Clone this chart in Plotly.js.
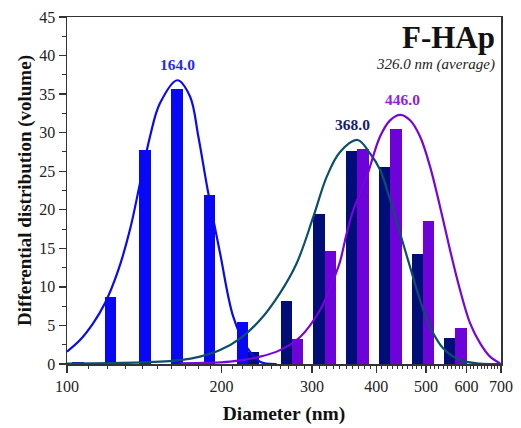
<!DOCTYPE html>
<html><head><meta charset="utf-8">
<script src="https://cdn.plot.ly/plotly-3.0.1.min.js"></script>
<style>html,body{margin:0;padding:0;background:#fff}</style>
</head><body><div id="chart" style="width:521px;height:428px"></div>
<script>
// ---- data ----
const blueBarX   = [105, 121.6, 141.9, 163.7, 189.7, 219.6];
const blueBarY   = [0.25, 8.7, 27.8, 35.6, 21.9, 5.5];
const navyBarX   = [231, 267.5, 309.7, 358.5, 415, 481, 557];
const navyBarY   = [1.5, 8.2, 19.4, 27.6, 25.5, 14.3, 3.4];
const purpBarX   = [281, 326, 377, 437, 505, 585];
const purpBarY   = [3.3, 14.7, 27.9, 30.5, 18.6, 4.7];

const blueFitX = [100, 106, 112.5, 118.6, 125.9, 132.6, 138.7, 145.1, 151.7, 164, 173.6, 180.2, 188, 198.6, 210.8, 223.8, 237.6, 256];
const blueFitY = [1.6, 3.1, 5.3, 7.9, 12.2, 17.4, 23.4, 29.5, 33.8, 36.8, 34.7, 29.5, 22.5, 14.4, 6.1, 2.2, 0.3, 0];
const navyFitX = [100, 140, 166, 181.5, 198.6, 217.2, 237.6, 259.9, 280.2, 301.8, 320.5, 340.2, 368, 389.2, 407, 425.7, 445.2, 465.6, 486.9, 509.3, 540.6, 582.6, 637.2, 700];
const navyFitY = [0.05, 0.2, 0.5, 0.95, 1.8, 3.3, 5.7, 9.2, 13.1, 19.1, 24.3, 27.5, 29.05, 27.3, 25.2, 21.3, 16.95, 12.6, 8.3, 4.8, 2.0, 0.5, 0.05, 0];
const purpFitX = [166, 207.7, 237.6, 259.9, 284.4, 311, 330.1, 340.2, 350.6, 361.1, 383.4, 407, 425.7, 446, 465.6, 486.9, 509.3, 532.6, 557, 582.6, 609.3, 637.2, 666.4, 697];
const purpFitY = [0.1, 0.3, 0.95, 1.8, 3.5, 7.0, 10.9, 13.3, 17.0, 20.0, 24.3, 29.5, 31.6, 32.3, 31.6, 29.5, 25.6, 20.4, 14.8, 9.6, 5.3, 2.7, 0.95, 0.1];

const peakX = [164, 368, 446];
const peakY = [36.8, 29.05, 32.3];
const peakLabels = ['164.0', '368.0', '446.0'];

const xTickVals = [100, 200, 300, 400, 500, 600, 700];
const xTickText = ['100', '200', '300', '400', '500', '600', '700'];
const yTickVals = [0, 5, 10, 15, 20, 25, 30, 35, 40, 45];

// ---- styling ----
const C = {
  blueBar: '#0808f6', navyBar: '#010e78', purpBar: '#6d02d9',
  blueLine: '#0a0af0', navyLine: '#0c4f6c', purpLine: '#7604dc',
  blueTxt: '#1f2cf0', navyTxt: '#14206e', purpTxt: '#8a24e0'
};
const FONT = 'Liberation Serif, Times New Roman, serif';
const HALF = 0.011; // half bar width in decades

function barTrace(xs, ys, color) {
  return {
    type: 'bar', x: xs, y: ys,
    offset: xs.map(d => d * (Math.pow(10, -HALF) - 1)),
    width: xs.map(d => d * (Math.pow(10, HALF) - Math.pow(10, -HALF))),
    marker: {color: color, line: {width: 0}},
    hoverinfo: 'skip', showlegend: false
  };
}
function lineTrace(xs, ys, color) {
  return {
    type: 'scatter', mode: 'lines', x: xs, y: ys,
    line: {color: color, width: 2.2, shape: 'spline', smoothing: 1},
    hoverinfo: 'skip', showlegend: false, cliponaxis: true
  };
}

const minorX = [];
for (let d = 110; d < 700; d += 10) { if (d % 100 !== 0) minorX.push(d); }

const data = [
  barTrace(blueBarX, blueBarY, C.blueBar),
  barTrace(navyBarX, navyBarY, C.navyBar),
  barTrace(purpBarX, purpBarY, C.purpBar),
  lineTrace(blueFitX, blueFitY, C.blueLine),
  lineTrace(navyFitX, navyFitY, C.navyLine),
  lineTrace(purpFitX, purpFitY, C.purpLine)
];

const labelColors = [C.blueTxt, C.navyTxt, C.purpTxt];
const labelShiftX = [0, -5, 2];
const annotations = peakX.map((px, i) => ({
  x: Math.log10(px), y: peakY[i], xref: 'x', yref: 'y',
  text: '<b>' + peakLabels[i] + '</b>', showarrow: false,
  xanchor: 'center', yanchor: 'bottom', yshift: 5, xshift: labelShiftX[i],
  font: {family: FONT, size: 15.5, color: labelColors[i]}
}));
annotations.push({
  x: 1, y: 0.94, xref: 'paper', yref: 'paper', xanchor: 'right', yanchor: 'middle',
  xshift: -4, showarrow: false, text: '<b>F-HAp</b>',
  font: {family: FONT, size: 31, color: '#111'}
});
annotations.push({
  x: 1, y: 0.862, xref: 'paper', yref: 'paper', xanchor: 'right', yanchor: 'middle',
  xshift: -4, showarrow: false, text: '<i>326.0 nm (average)</i>',
  font: {family: FONT, size: 15, color: '#222'}
});

const layout = {
  width: 521, height: 428,
  margin: {l: 67, r: 20, t: 17, b: 64},
  paper_bgcolor: '#fff', plot_bgcolor: '#fff',
  barmode: 'overlay', bargap: 0,
  font: {family: FONT, color: '#222'},
  xaxis: {
    type: 'log', range: [2, Math.log10(700)],
    tickmode: 'array', tickvals: xTickVals, ticktext: xTickText,
    ticks: 'outside', ticklen: 7, tickwidth: 1.3, tickcolor: '#333',
    showline: true, linecolor: '#333', linewidth: 1.5, mirror: true,
    showgrid: false, zeroline: false,
    tickfont: {family: FONT, size: 16, color: '#222'},
    minor: {tickvals: minorX, ticks: 'outside', ticklen: 3.5, tickwidth: 1, tickcolor: '#333', showgrid: false},
    title: {text: '<b>Diameter (nm)</b>', font: {family: FONT, size: 19.5, color: '#111'}, standoff: 12}
  },
  yaxis: {
    range: [0, 45], tickmode: 'array', tickvals: yTickVals,
    ticks: 'outside', ticklen: 7, tickwidth: 1.3, tickcolor: '#333',
    showline: true, linecolor: '#333', linewidth: 1.5, mirror: true,
    showgrid: false, zeroline: false,
    tickfont: {family: FONT, size: 16, color: '#222'},
    minor: {dtick: 2.5, ticks: 'outside', ticklen: 3.5, tickwidth: 1, tickcolor: '#333', showgrid: false},
    title: {text: '<b>Differential distribution (volume)</b>', font: {family: FONT, size: 19, color: '#111'}, standoff: 2}
  },
  annotations: annotations,
  showlegend: false
};

Plotly.newPlot('chart', data, layout, {staticPlot: true, displayModeBar: false});
</script>
</body></html>
